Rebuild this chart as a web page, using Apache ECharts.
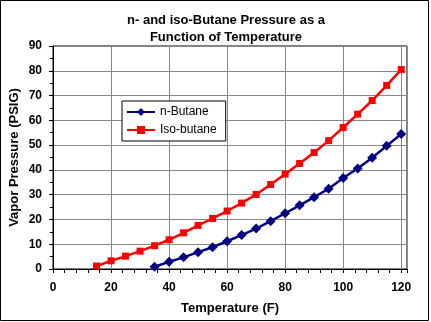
<!DOCTYPE html>
<html>
<head>
<meta charset="utf-8">
<script src="https://cdn.jsdelivr.net/npm/echarts@6/dist/echarts.min.js"></script>
<style>
html,body{margin:0;padding:0;background:#fff;}
#c{width:431px;height:322px;}
</style>
</head>
<body>
<div id="c"></div>
<script>
var titleText = "n- and iso-Butane Pressure as a\nFunction of Temperature";
var xName = "Temperature (F)";
var yName = "Vapor Pressure (PSIG)";
var seriesNames = ["n-Butane", "Iso-butane"];

var nButaneTemp = [35,40,45,50,55,60,65,70,75,80,85,90,95,100,105,110,115,120];
var nButaneVal  = [0.9,2.9,4.7,6.8,8.8,11.2,13.7,16.3,19.3,22.5,25.7,29.0,32.4,36.7,40.6,44.9,49.7,54.5];

var isoTemp = [15,20,25,30,35,40,45,50,55,60,65,70,75,80,85,90,95,100,105,110,115,120];
var isoVal  = [1.2,3.3,5.2,7.2,9.4,11.8,14.6,17.6,20.4,23.4,26.6,30.1,34.1,38.3,42.6,47.0,51.8,57.1,62.5,68.0,74.1,80.5];

function pairs(xs, ys){ return xs.map(function(x,i){ return [x, ys[i]]; }); }

var FONT = "'Liberation Sans', Arial, sans-serif";
var chart = echarts.init(document.getElementById('c'), null, {renderer:'canvas'});
chart.setOption({
  animation:false,
  backgroundColor:'#fff',
  title:{
    text:titleText, left:221, top:7, textAlign:'center',
    textStyle:{fontFamily:FONT, fontSize:13, fontWeight:'bold', color:'#000', lineHeight:17}
  },
  graphic:[{type:'rect', shape:{x:0.5,y:0.5,width:428,height:320}, style:{fill:'none', stroke:'#000', lineWidth:1}, z:100}],
  legend:{
    orient:'vertical', left:122, top:101, padding:[5,9,5,4], itemGap:6,
    itemWidth:28, itemHeight:10,
    backgroundColor:'#fff', borderColor:'#000', borderWidth:1, borderRadius:0,
    textStyle:{fontFamily:FONT, fontSize:12, color:'#000'},
    data:seriesNames
  },
  grid:{left:53, top:46, right:24, bottom:53, show:true, borderColor:'#000', borderWidth:1, backgroundColor:'#fff',
        containLabel:false, outerBoundsMode:'none'},
  xAxis:{
    type:'value', min:0, max:122, interval:20,
    name:xName, nameLocation:'middle', nameGap:33,
    nameTextStyle:{fontFamily:FONT, fontSize:13, fontWeight:'bold', color:'#000'},
    axisLine:{show:true, lineStyle:{color:'#000', width:1}},
    axisTick:{show:true, inside:false, length:4, lineStyle:{color:'#000'}},
    minorTick:{show:true, splitNumber:5, length:4, lineStyle:{color:'#000'}},
    axisLabel:{fontFamily:FONT, fontSize:12, fontWeight:'bold', color:'#000', margin:13,
      formatter:function(v){ return (v % 20 === 0) ? String(v) : ''; }, showMaxLabel:false},
    splitLine:{show:true, lineStyle:{color:'#888', width:1}}
  },
  yAxis:{
    type:'value', min:0, max:90, interval:10,
    name:yName, nameLocation:'middle', nameGap:32, nameMoveOverlap:false,
    nameTextStyle:{fontFamily:FONT, fontSize:13, fontWeight:'bold', color:'#000'},
    axisLine:{show:true, lineStyle:{color:'#000', width:1}},
    axisTick:{show:true, inside:false, length:4, lineStyle:{color:'#000'}},
    minorTick:{show:true, splitNumber:2, length:3, lineStyle:{color:'#000'}},
    axisLabel:{fontFamily:FONT, fontSize:12, fontWeight:'bold', color:'#000', margin:11},
    splitLine:{show:true, lineStyle:{color:'#888', width:1}}
  },
  series:[
    {name:seriesNames[0], type:'line', data:pairs(nButaneTemp, nButaneVal),
     symbol:'diamond', symbolSize:10, color:'#000080',
     lineStyle:{color:'#000080', width:2.5}, itemStyle:{color:'#000080'}, z:3},
    {name:seriesNames[1], type:'line', data:pairs(isoTemp, isoVal),
     symbol:'rect', symbolSize:7, color:'#ff0000',
     lineStyle:{color:'#ff0000', width:2.5}, itemStyle:{color:'#ff0000'}, z:2}
  ]
});
</script>
</body>
</html>
